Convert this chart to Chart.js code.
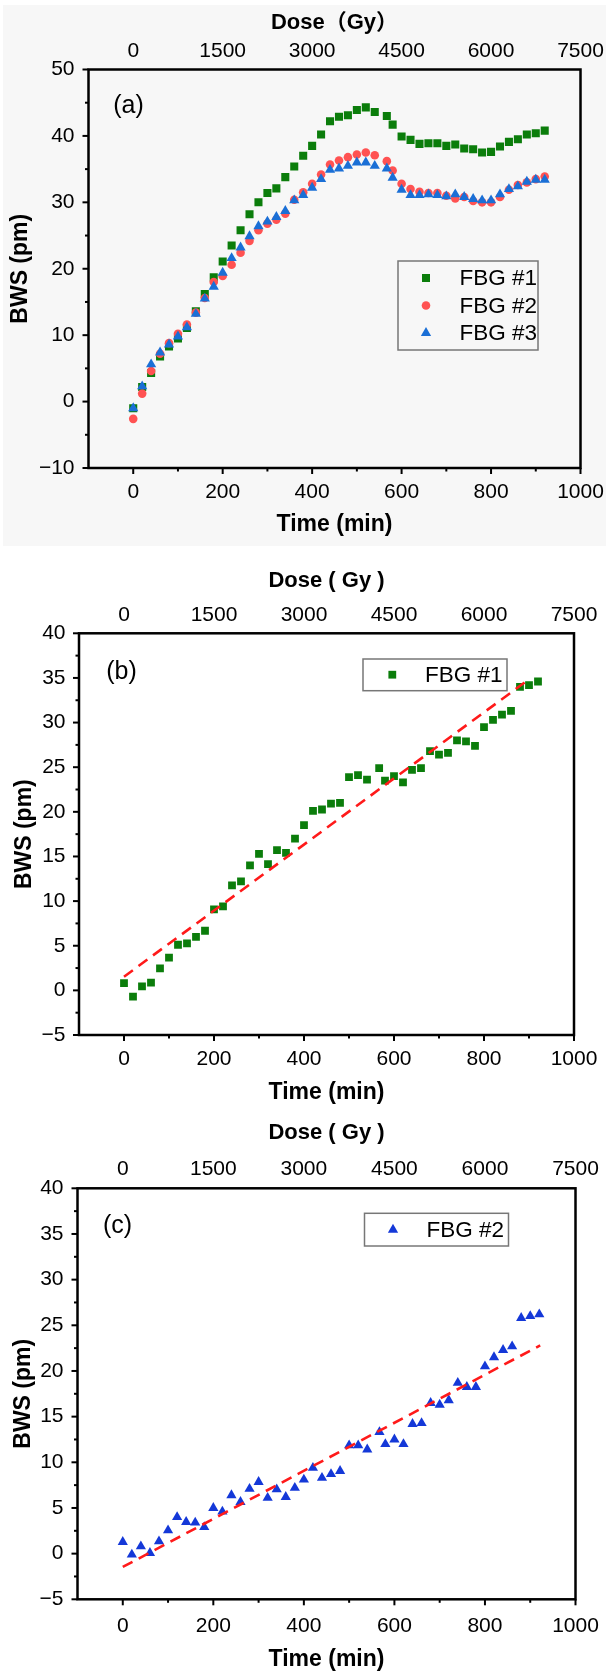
<!DOCTYPE html>
<html><head><meta charset="utf-8">
<script src="https://cdn.jsdelivr.net/npm/chart.js@4"></script>
<style>
html,body{margin:0;padding:0;background:#fff;}
body{width:606px;height:1673px;position:relative;overflow:hidden;}
#bgA{position:absolute;left:3px;top:5px;width:603px;height:541px;background:#f7f7f7;}
.wrap{position:absolute;left:0;width:606px;}
canvas{display:block;}
</style></head><body>
<div id="bgA"></div>
<div class="wrap" style="top:0;height:560px"><canvas id="ca" width="606" height="560"></canvas></div>
<div class="wrap" style="top:550px;height:560px"><canvas id="cb" width="606" height="560"></canvas></div>
<div class="wrap" style="top:1110px;height:565px"><canvas id="cc" width="606" height="565"></canvas></div>
<script>
// ---------- data ----------
const times = [0,20,40,60,80,100,120,140,160,180,200,220,240,260,280,300,320,340,360,380,400,420,440,460,480,500,520,540,567,580,600,620,640,660,680,700,720,740,760,780,800,820,840,860,880,900,920];
const fbg1a = [-1.0,2.2,4.3,6.8,8.3,9.5,11.1,13.6,16.2,18.7,21.1,23.5,25.8,28.2,30.0,31.4,32.1,33.8,35.4,37.0,38.5,40.2,42.2,42.9,43.1,43.9,44.3,43.6,43.0,41.7,39.9,39.4,38.8,38.9,38.9,38.5,38.7,38.1,38.0,37.5,37.6,38.4,39.1,39.5,40.2,40.4,40.8];
const fbg2a = [-2.6,1.2,4.6,7.2,8.8,10.2,11.6,13.4,15.6,18.0,18.9,20.6,22.4,24.2,25.8,26.8,27.4,28.3,30.4,31.5,32.8,34.2,35.7,36.3,36.8,37.2,37.5,37.1,36.2,34.8,32.8,32.0,31.6,31.4,31.4,31.0,30.6,30.8,30.2,30.0,30.0,30.8,31.9,32.6,33.0,33.5,33.9];
const fbg3a = [-1.0,2.3,5.6,7.4,8.6,9.8,11.2,13.2,15.5,17.3,19.4,21.6,23.2,24.9,26.4,27.1,27.8,28.7,30.3,31.1,32.2,33.5,34.9,35.1,35.5,36.0,36.0,35.5,35.1,33.7,31.9,31.1,31.1,31.2,31.1,30.9,31.2,30.8,30.5,30.3,30.3,31.2,32.0,32.4,33.1,33.4,33.4];
const fbg1b = [0.82,-0.71,0.45,0.86,2.46,3.66,5.11,5.26,6.0,6.68,9.07,9.4,11.75,12.2,14.0,15.3,14.14,15.7,15.4,17.0,18.5,20.1,20.26,20.93,21.0,23.9,24.1,23.6,24.9,23.5,24.0,23.3,24.7,24.9,26.8,26.4,26.6,28.0,27.9,27.4,29.5,30.3,30.9,31.3,34.0,34.2,34.6];
const fbg2c = [1.28,-0.1,0.8,0.07,1.35,2.55,4.0,3.47,3.4,2.9,5.0,4.6,6.4,5.66,7.1,7.85,6.1,7.04,6.2,7.2,8.1,9.4,8.3,8.7,9.05,11.86,11.86,11.4,13.3,12.0,12.5,12.0,14.2,14.3,16.5,16.3,16.8,18.7,18.25,18.25,20.5,21.5,22.3,22.7,25.8,26.0,26.2];
const fitBTimes = [0, 900];
const fitBValues = [1.53, 34.85];
const fitCTimes = [0, 922];
const fitCValues = [-1.46, 22.8];
const timeTicks = [0,200,400,600,800,1000];
const doseTicks = [0,1500,3000,4500,6000,7500];
const bwsTicksA = [-10,0,10,20,30,40,50];
const bwsTicksBC = [-5,0,5,10,15,20,25,30,35,40];

// ---------- fonts ----------
function hasFont(name) {
  const c = document.createElement('canvas').getContext('2d');
  const s = '1000 FBG Time (min) 7500';
  c.font = '40px monospace'; const a = c.measureText(s).width;
  c.font = `40px '${name}', monospace`; const b = c.measureText(s).width;
  return Math.abs(a - b) > 0.5;
}
const BASE = "'Liberation Sans', Arial, 'Noto Sans CJK SC', sans-serif";
const NARROW = hasFont('Liberation Sans Narrow');
const TICKFAM = NARROW ? "'Liberation Sans Narrow', " + BASE : BASE;
const TICKSIZE = NARROW ? 23 : 21;

// ---------- helpers ----------
const pts = (xs, ys) => xs.map((x, i) => ({x, y: ys[i]}));
const mids = arr => arr.slice(1).map((v, i) => (v + arr[i]) / 2);
const fmt = v => String(v).replace('-', '\u2212');

function drawMarker(ctx, style, r, x, y, color) {
  ctx.fillStyle = color;
  ctx.beginPath();
  if (style === 'rect') {
    const s = Math.SQRT1_2 * r;
    ctx.rect(x - s, y - s, 2 * s, 2 * s);
  } else if (style === 'triangle') {
    let a = 0;
    ctx.moveTo(x + Math.sin(a) * r, y - Math.cos(a) * r);
    a += 2 * Math.PI / 3;
    ctx.lineTo(x + Math.sin(a) * r, y - Math.cos(a) * r);
    a += 2 * Math.PI / 3;
    ctx.lineTo(x + Math.sin(a) * r, y - Math.cos(a) * r);
    ctx.closePath();
  } else {
    ctx.arc(x, y, r, 0, Math.PI * 2);
  }
  ctx.fill();
}

const decorPlugin = {
  id: 'decor',
  afterDatasetsDraw(chart, args, o) {
    const {ctx, chartArea: a, scales} = chart;
    ctx.save();
    ctx.strokeStyle = '#000';
    ctx.lineWidth = 2;
    const xs = scales.x, ys = scales.y;
    const tick = (x1, y1, x2, y2) => { ctx.beginPath(); ctx.moveTo(x1, y1); ctx.lineTo(x2, y2); ctx.stroke(); };
    o.yMajor.forEach(v => { const p = ys.getPixelForValue(v); tick(a.left, p, a.left - 6, p); });
    mids(o.yMajor).forEach(v => { const p = ys.getPixelForValue(v); tick(a.left, p, a.left - 3.5, p); });
    o.xMajor.forEach(v => { const p = xs.getPixelForValue(v); tick(p, a.bottom, p, a.bottom + 6); });
    mids(o.xMajor).forEach(v => { const p = xs.getPixelForValue(v); tick(p, a.bottom, p, a.bottom + 3.5); });
    ctx.lineWidth = 2.5;
    ctx.strokeRect(a.left, a.top, a.right - a.left, a.bottom - a.top);
    ctx.fillStyle = '#000';
    ctx.font = `25px ${BASE}`;
    ctx.textAlign = 'center';
    ctx.textBaseline = 'middle';
    ctx.fillText(o.label, o.labelX, o.labelY);
    const L = o.legend;
    ctx.lineWidth = 1.5;
    ctx.strokeStyle = '#777';
    ctx.strokeRect(L.x, L.y, L.w, L.h);
    ctx.font = `22.5px ${BASE}`;
    ctx.textAlign = 'left';
    L.items.forEach((idx, k) => {
      const ds = chart.data.datasets[idx];
      const yy = L.rows[k];
      drawMarker(ctx, ds.pointStyle, ds.pointRadius, L.mx, yy, ds.backgroundColor);
      ctx.fillStyle = '#000';
      ctx.fillText(ds.label, L.tx, yy + 1);
    });
    ctx.restore();
  }
};

function makePanel(id, g) {
  const tickFont = {family: TICKFAM, size: TICKSIZE};
  const half = TICKSIZE * 1.2 / 2;
  const titleFont = {family: BASE, size: 23, weight: 'bold'};
  const doseFont = {family: BASE, size: 22, weight: 'bold'};
  return new Chart(document.getElementById(id), {
    type: 'scatter',
    data: {datasets: g.datasets},
    options: {
      responsive: false, animation: false, devicePixelRatio: 1,
      layout: {padding: {left: 0, top: 0, bottom: 0, right: g.padRight}},
      plugins: {legend: {display: false}, tooltip: {enabled: false}, decor: g.decor},
      scales: {
        x: {
          type: 'linear', axis: 'x', position: 'bottom', min: -100, max: 1000,
          afterBuildTicks: s => { s.ticks = timeTicks.map(v => ({value: v})); },
          afterFit: s => { s.height = g.xH; s.paddingLeft = 0; s.paddingRight = 0; },
          grid: {display: false, drawTicks: false}, border: {display: false},
          ticks: {font: tickFont, color: '#000', padding: g.xTickC - half, autoSkip: false, maxRotation: 0, callback: fmt},
          title: {display: true, text: 'Time (min)', font: titleFont, color: '#000', padding: {top: 0, bottom: g.xTitlePad}}
        },
        x2: {
          type: 'linear', axis: 'x', position: 'top', min: -750, max: 7500,
          afterBuildTicks: s => { s.ticks = doseTicks.map(v => ({value: v})); },
          afterFit: s => { s.height = g.x2H; s.paddingLeft = 0; s.paddingRight = 0; },
          grid: {display: false, drawTicks: false}, border: {display: false},
          ticks: {font: tickFont, color: '#000', padding: g.x2TickC - half, autoSkip: false, maxRotation: 0, callback: fmt},
          title: {display: true, text: g.doseTitle, font: doseFont, color: '#000', padding: {top: g.x2TitlePad, bottom: 0}}
        },
        y: {
          type: 'linear', axis: 'y', position: 'left', min: g.yMin, max: g.yMax,
          afterBuildTicks: s => { s.ticks = g.yTicks.map(v => ({value: v})); },
          afterFit: s => { s.width = g.yW; s.paddingTop = 0; s.paddingBottom = 0; },
          grid: {display: false, drawTicks: false}, border: {display: false},
          ticks: {font: tickFont, color: '#000', padding: g.yTickPad, autoSkip: false, callback: fmt},
          title: {display: true, text: 'BWS (pm)', font: titleFont, color: '#000', padding: {top: g.yTitlePad, bottom: 0}}
        }
      }
    },
    plugins: [decorPlugin]
  });
}

const green = '#0b7d0b', red = '#ff5252', blueA = '#1a6fd6', blueC = '#1438d8', dashRed = '#ff1a1a';

// ---------- panel (a) ----------
makePanel('ca', {
  padRight: 25.5, xH: 92, x2H: 69.5, yW: 88.5,
  xTickC: 24.3, xTitlePad: 21.2, x2TickC: 18.2, x2TitlePad: 10, yTickPad: 14, yTitlePad: 6.5,
  yMin: -10, yMax: 50, yTicks: bwsTicksA, doseTitle: 'Dose\uFF08Gy\uFF09',
  datasets: [
    {label: 'FBG #1', data: pts(times, fbg1a), pointStyle: 'rect', pointRadius: 5.7, backgroundColor: green, borderColor: green, borderWidth: 0, order: 3},
    {label: 'FBG #2', data: pts(times, fbg2a), pointStyle: 'circle', pointRadius: 4.3, backgroundColor: red, borderColor: red, borderWidth: 0, order: 2},
    {label: 'FBG #3', data: pts(times, fbg3a), pointStyle: 'triangle', pointRadius: 5.9, backgroundColor: blueA, borderColor: blueA, borderWidth: 0, order: 1}
  ],
  decor: {
    yMajor: bwsTicksA, xMajor: timeTicks, label: '(a)', labelX: 128.5, labelY: 106.5,
    legend: {x: 398, y: 261, w: 140, h: 89, rows: [278, 305.5, 333], mx: 426, tx: 459.5, items: [0, 1, 2]}
  }
});

// ---------- panel (b) ----------
makePanel('cb', {
  padRight: 32, xH: 75, x2H: 83.3, yW: 79,
  xTickC: 24.3, xTitlePad: 3.2, x2TickC: 18.3, x2TitlePad: 17.5, yTickPad: 13.5, yTitlePad: 10.5,
  yMin: -5, yMax: 40, yTicks: bwsTicksBC, doseTitle: 'Dose ( Gy )',
  datasets: [
    {label: 'fit', type: 'line', data: pts(fitBTimes, fitBValues), showLine: true, pointRadius: 0, borderColor: dashRed, borderWidth: 2.6, borderDash: [11, 7], fill: false, order: 1},
    {label: 'FBG #1', data: pts(times, fbg1b), pointStyle: 'rect', pointRadius: 5.5, backgroundColor: green, borderColor: green, borderWidth: 0, order: 2}
  ],
  decor: {
    yMajor: bwsTicksBC, xMajor: timeTicks, label: '(b)', labelX: 121.5, labelY: 122,
    legend: {x: 363, y: 109, w: 144, h: 31.7, rows: [124.7], mx: 392.3, tx: 425, items: [1]}
  }
});

// ---------- panel (c) ----------
makePanel('cc', {
  padRight: 30.5, xH: 75.7, x2H: 78.3, yW: 77.5,
  xTickC: 26.7, xTitlePad: 1.2, x2TickC: 19, x2TitlePad: 10.1, yTickPad: 14, yTitlePad: 10,
  yMin: -5, yMax: 40, yTicks: bwsTicksBC, doseTitle: 'Dose ( Gy )',
  datasets: [
    {label: 'fit', type: 'line', data: pts(fitCTimes, fitCValues), showLine: true, pointRadius: 0, borderColor: dashRed, borderWidth: 2.6, borderDash: [11, 7], fill: false, order: 1},
    {label: 'FBG #2', data: pts(times, fbg2c), pointStyle: 'triangle', pointRadius: 5.9, backgroundColor: blueC, borderColor: blueC, borderWidth: 0, order: 2}
  ],
  decor: {
    yMajor: bwsTicksBC, xMajor: timeTicks, label: '(c)', labelX: 117.5, labelY: 116.3,
    legend: {x: 364.5, y: 103.3, w: 144, h: 32.7, rows: [119.7], mx: 393, tx: 426.5, items: [1]}
  }
});
</script>
</body></html>
